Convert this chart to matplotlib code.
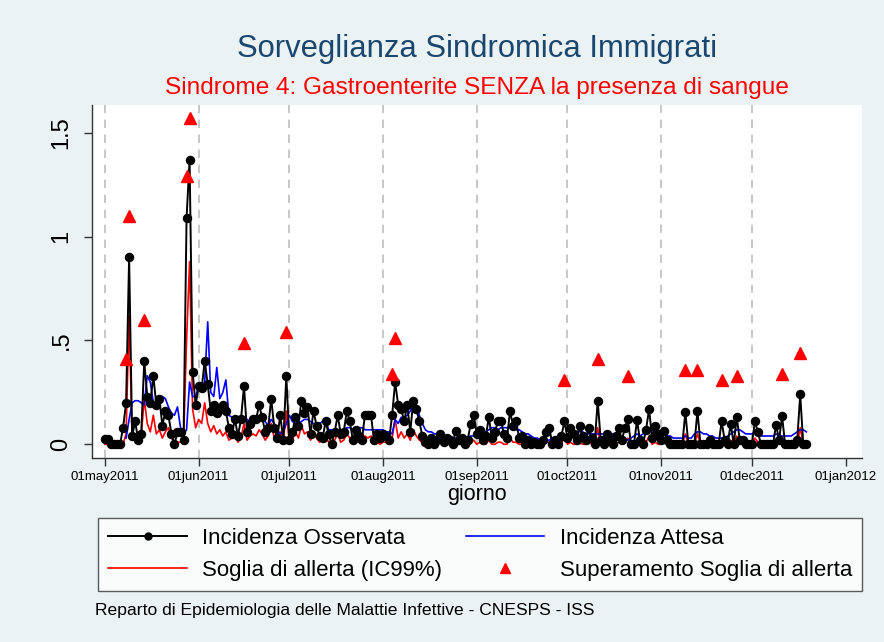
import numpy as np
import pandas as pd
import matplotlib
matplotlib.use('Agg')
from matplotlib import pyplot as plt
from matplotlib.lines import Line2D

plt.rcParams['font.family'] = ['Liberation Sans', 'DejaVu Sans']

start = pd.Timestamp('2011-05-01')

# incidenza osservata, one value per day from 01may2011
observed = [
    0.025, 0.025, 0.0, 0.0, 0.0, 0.0, 0.08, 0.20, 0.90, 0.04,
    0.11, 0.02, 0.05, 0.40, 0.23, 0.20, 0.33, 0.19, 0.22, 0.09,
    0.16, 0.14, 0.05, 0.0, 0.06, 0.06, 0.02, 1.09, 1.37, 0.35,
    0.19, 0.28, 0.27, 0.40, 0.29, 0.16, 0.19, 0.15, 0.17, 0.19,
    0.16, 0.08, 0.05, 0.12, 0.04, 0.12, 0.28, 0.06, 0.10, 0.12,
    0.12, 0.19, 0.13, 0.06, 0.08, 0.22, 0.08, 0.03, 0.14, 0.02,
    0.33, 0.02, 0.06, 0.13, 0.09, 0.21, 0.15, 0.18, 0.05, 0.16,
    0.09, 0.04, 0.03, 0.11, 0.05, 0.0, 0.06, 0.14, 0.05, 0.06,
    0.16, 0.11, 0.02, 0.07, 0.04, 0.02, 0.14, 0.14, 0.14, 0.02,
    0.05, 0.03, 0.05, 0.04, 0.02, 0.14, 0.30, 0.19, 0.17, 0.11,
    0.19, 0.06, 0.21, 0.17, 0.11, 0.04, 0.01, 0.0, 0.03, 0.0,
    0.02, 0.05, 0.01, 0.03, 0.02, 0.0, 0.065, 0.02, 0.03, 0.0,
    0.02, 0.10, 0.14, 0.05, 0.07, 0.02, 0.04, 0.13, 0.03, 0.06,
    0.11, 0.11, 0.05, 0.03, 0.16, 0.09, 0.11, 0.03, 0.04, 0.0,
    0.02, 0.0, 0.01, 0.0, 0.0, 0.02, 0.06, 0.08, 0.0, 0.02,
    0.0, 0.04, 0.11, 0.03, 0.08, 0.05, 0.02, 0.09, 0.04, 0.02,
    0.08, 0.03, 0.0, 0.21, 0.02, 0.0, 0.05, 0.02, 0.0, 0.04,
    0.08, 0.02, 0.08, 0.12, 0.0, 0.0, 0.115, 0.02, 0.0, 0.07,
    0.17, 0.03, 0.09, 0.05, 0.02, 0.065, 0.02, 0.0, 0.0, 0.0,
    0.0, 0.0, 0.155, 0.0, 0.0, 0.0, 0.16, 0.0, 0.0, 0.0,
    0.02, 0.0, 0.0, 0.0, 0.11, 0.02, 0.0, 0.10, 0.0, 0.13,
    0.02, 0.02, 0.0, 0.0, 0.0, 0.11, 0.06, 0.0, 0.0, 0.0,
    0.0, 0.0, 0.095, 0.02, 0.135, 0.0, 0.0, 0.0, 0.0, 0.02,
    0.24, 0.0, 0.0,
]

# incidenza attesa (starts one week later)
expected = [np.nan] * 7 + [
    0.03, 0.12, 0.20,
    0.21, 0.21, 0.20, 0.19, 0.33, 0.30, 0.20, 0.19, 0.21, 0.23,
    0.22, 0.18, 0.15, 0.14, 0.18, 0.08, 0.05, 0.07, 0.30, 0.23,
    0.23, 0.28, 0.28, 0.30, 0.59, 0.25, 0.23, 0.37, 0.22, 0.25,
    0.31, 0.14, 0.13, 0.12, 0.12, 0.11, 0.11, 0.12, 0.11, 0.11,
    0.12, 0.12, 0.12, 0.11, 0.09, 0.12, 0.10, 0.07, 0.05, 0.06,
    0.10, 0.14, 0.11, 0.10, 0.10, 0.11, 0.12, 0.12, 0.11, 0.10,
    0.10, 0.10, 0.11, 0.12, 0.07, 0.07, 0.06, 0.06, 0.07, 0.07,
    0.08, 0.08, 0.07, 0.08, 0.08, 0.08, 0.07, 0.07, 0.07, 0.07,
    0.07, 0.07, 0.07, 0.06, 0.06, 0.05, 0.12, 0.10, 0.13, 0.13,
    0.14, 0.16, 0.19, 0.19, 0.14, 0.10, 0.07, 0.06, 0.06, 0.05,
    0.05, 0.04, 0.04, 0.03, 0.03, 0.03, 0.03, 0.02, 0.02, 0.02,
    0.03, 0.04, 0.04, 0.05, 0.05, 0.06, 0.06, 0.07, 0.08, 0.08,
    0.07, 0.08, 0.08, 0.08, 0.08, 0.08, 0.07, 0.07, 0.06, 0.05,
    0.05, 0.04, 0.03, 0.03, 0.02, 0.02, 0.02, 0.02, 0.03, 0.03,
    0.03, 0.04, 0.04, 0.05, 0.04, 0.05, 0.06, 0.06, 0.06, 0.05,
    0.05, 0.05, 0.05, 0.05, 0.05, 0.05, 0.05, 0.05, 0.05, 0.04,
    0.02, 0.02, 0.02, 0.02, 0.03, 0.04, 0.05, 0.04, 0.05, 0.06,
    0.08, 0.07, 0.06, 0.07, 0.06, 0.05, 0.04, 0.04, 0.03, 0.03,
    0.03, 0.03, 0.04, 0.03, 0.03, 0.05, 0.06, 0.06, 0.05, 0.05,
    0.04, 0.04, 0.03, 0.03, 0.03, 0.03, 0.04, 0.05, 0.06, 0.07,
    0.07, 0.06, 0.05, 0.05, 0.05, 0.06, 0.05, 0.04, 0.04, 0.04,
    0.04, 0.04, 0.05, 0.04, 0.04, 0.04, 0.04, 0.04, 0.05, 0.06,
    0.07, 0.07, 0.06,
]

# soglia di allerta (IC99%)
threshold = [
    0.0, 0.0, 0.0, 0.0, 0.0, 0.0, 0.0, 0.05, 0.62, 0.02,
    0.05, 0.0, 0.04, 0.22, 0.10, 0.06, 0.14, 0.05, 0.07, 0.03,
    0.06, 0.08, 0.03, 0.01, 0.01, 0.01, 0.01, 0.50, 0.88, 0.17,
    0.08, 0.12, 0.10, 0.20, 0.10, 0.06, 0.09, 0.05, 0.07, 0.04,
    0.06, 0.02, 0.03, 0.05, 0.01, 0.03, 0.10, 0.02, 0.04, 0.05,
    0.04, 0.07, 0.05, 0.02, 0.04, 0.10, 0.03, 0.01, 0.06, 0.01,
    0.16, 0.01, 0.02, 0.06, 0.03, 0.09, 0.05, 0.06, 0.02, 0.05,
    0.03, 0.01, 0.02, 0.04, 0.01, 0.0, 0.02, 0.05, 0.01, 0.02,
    0.05, 0.03, 0.01, 0.02, 0.01, 0.01, 0.04, 0.03, 0.04, 0.0,
    0.01, 0.0, 0.01, 0.01, 0.0, 0.03, 0.12, 0.03, 0.06, 0.03,
    0.05, 0.02, 0.07, 0.04, 0.02, 0.01, 0.0, 0.0, 0.0, 0.0,
    0.0, 0.01, 0.0, 0.0, 0.0, 0.0, 0.02, 0.0, 0.0, 0.0,
    0.0, 0.01, 0.02, 0.0, 0.01, 0.0, 0.0, 0.02, 0.0, 0.0,
    0.01, 0.01, 0.0, 0.0, 0.03, 0.01, 0.01, 0.0, 0.0, 0.0,
    0.0, 0.0, 0.0, 0.0, 0.0, 0.0, 0.01, 0.01, 0.0, 0.0,
    0.0, 0.0, 0.04, 0.0, 0.01, 0.0, 0.0, 0.01, 0.0, 0.0,
    0.01, 0.0, 0.0, 0.08, 0.0, 0.0, 0.0, 0.0, 0.0, 0.0,
    0.01, 0.0, 0.01, 0.03, 0.0, 0.0, 0.02, 0.0, 0.0, 0.01,
    0.04, 0.0, 0.01, 0.0, 0.0, 0.01, 0.0, 0.0, 0.0, 0.0,
    0.0, 0.0, 0.05, 0.0, 0.0, 0.0, 0.05, 0.0, 0.0, 0.0,
    0.0, 0.0, 0.0, 0.0, 0.02, 0.0, 0.0, 0.02, 0.0, 0.04,
    0.0, 0.0, 0.0, 0.0, 0.0, 0.03, 0.01, 0.0, 0.0, 0.0,
    0.0, 0.0, 0.02, 0.0, 0.03, 0.0, 0.0, 0.0, 0.0, 0.0,
    0.08, 0.0, 0.0,
]

# superamento soglia: day index and plotted value
alert_days = [7, 8, 13, 27, 28, 46, 60, 95, 96, 152, 163, 173, 192, 196, 204, 209, 224, 230]
alert_values = [0.41, 1.10, 0.60, 1.29, 1.57, 0.49, 0.54, 0.34, 0.51, 0.31,
                0.41, 0.33, 0.36, 0.36, 0.31, 0.33, 0.34, 0.44]

month_starts = pd.date_range('2011-05-01', '2012-01-01', freq='MS')
xline_dates = month_starts[:-1]
y_ticks = [0, 0.5, 1, 1.5]
y_ticklabels = ['0', '.5', '1', '1.5']

dates = start + pd.to_timedelta(np.arange(len(observed)), unit='D')
alert_dates = start + pd.to_timedelta(alert_days, unit='D')

bg = '#eaf2f3'
fig = plt.figure(figsize=(8.84, 6.42), dpi=100, facecolor=bg)
ax = fig.add_axes([0.104, 0.2866, 0.871, 0.5498])
ax.set_facecolor('white')

for d in xline_dates:
    ax.axvline(d, color='#bdbdbd', linestyle=(0, (5, 4)), linewidth=1.2, zorder=1)

ax.plot(dates, threshold, color='red', linewidth=1.2, zorder=3)
ax.plot(dates, expected, color='blue', linewidth=1.2, zorder=3)
ax.plot(dates, observed, color='black', linewidth=1.4, marker='o', markersize=5.8, zorder=4)
ax.plot(alert_dates, alert_values, linestyle='none', marker='^', color='red',
        markersize=8.5, zorder=5)

ax.set_xlim(start - pd.Timedelta(days=4.3), start + pd.Timedelta(days=250.4))
ax.set_ylim(-0.066, 1.634)

ax.set_xticks(month_starts)
ax.set_xticklabels([d.strftime('%d%b%Y').lower() for d in month_starts], fontsize=9.5)
ax.set_yticks(y_ticks)
ax.set_yticklabels(y_ticklabels, fontsize=17, rotation=90, va='center')
ax.tick_params(axis='both', length=6, width=1, color='#333333', pad=3)
ax.tick_params(axis='y', pad=8)

for s in ['top', 'right']:
    ax.spines[s].set_visible(False)
for s in ['left', 'bottom']:
    ax.spines[s].set_color('#333333')
    ax.spines[s].set_linewidth(1)

ax.set_xlabel('giorno', fontsize=15.5, labelpad=1)

fig.text(0.54, 1 - 49 / 642, 'Sorveglianza Sindromica Immigrati', ha='center', va='center',
         fontsize=22.3, color='#1a476f')
fig.text(0.54, 1 - 88 / 642, 'Sindrome 4: Gastroenterite SENZA la presenza di sangue',
         ha='center', va='center', fontsize=17.6, color='red')

handles = [
    Line2D([], [], color='black', linewidth=1.4, marker='o', markersize=5),
    Line2D([], [], color='red', linewidth=1.2),
    Line2D([], [], color='blue', linewidth=1.2),
    Line2D([], [], color='red', linestyle='none', marker='^', markersize=7),
]
labels = ['Incidenza Osservata', 'Soglia di allerta (IC99%)',
          'Incidenza Attesa', 'Superamento Soglia di allerta']
leg = fig.legend(handles, labels, ncol=2, loc='center', mode='expand',
                 bbox_to_anchor=(0.111, 0.081, 0.864, 0.1106), fontsize=16,
                 handlelength=3.55, handletextpad=0.68, labelspacing=0.5,
                 fancybox=False, frameon=True, borderaxespad=0, borderpad=0.45)
leg.get_frame().set_edgecolor('#333333')
leg.get_frame().set_linewidth(1)

fig.text(95 / 884, 1 - 611 / 642, 'Reparto di Epidemiologia delle Malattie Infettive - CNESPS - ISS',
         ha='left', va='center', fontsize=12.6)

fig.savefig('out.png', dpi=100, facecolor=bg)
